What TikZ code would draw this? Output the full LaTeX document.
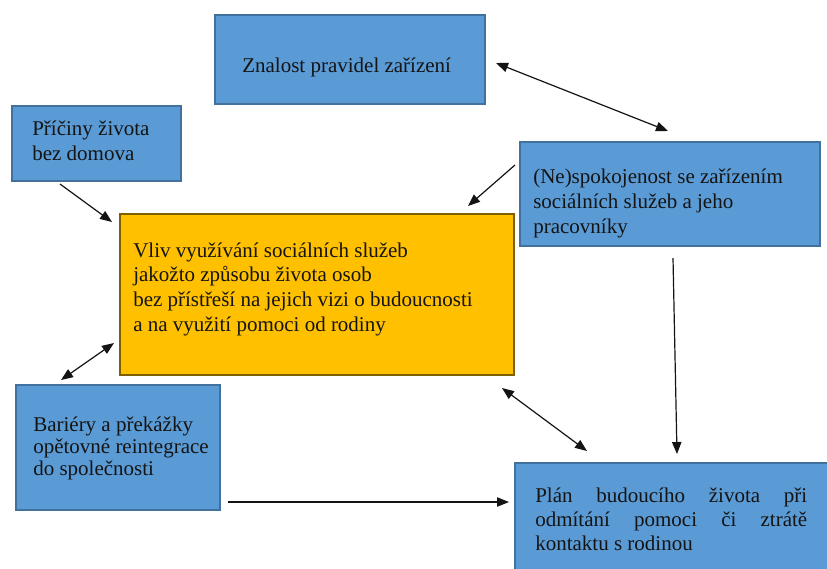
\documentclass[tikz,border=0pt]{standalone}
\usepackage{fontspec}
\setmainfont{Liberation Serif}
\usetikzlibrary{arrows.meta,fit}
\definecolor{boxblue}{HTML}{5B9BD5}
\definecolor{boxblueline}{HTML}{41719C}
\definecolor{boxyellow}{HTML}{FFC000}
\definecolor{boxyellowline}{HTML}{7F6000}
\definecolor{ink}{HTML}{141414}
\tikzset{
  bluebox/.style={draw=boxblueline, fill=boxblue, line width=0.8pt, inner sep=0pt},
  yellowbox/.style={draw=boxyellowline, fill=boxyellow, line width=0.8pt, inner sep=0pt},
  txt/.style={anchor=base west, inner sep=0pt, text=ink, font=\fontsize{15.75}{18.4}\selectfont, align=left},
  arr/.style={draw=ink, line width=0.9pt, -{Triangle[length=9pt,width=7pt]}},
  darr/.style={draw=ink, line width=0.9pt, {Triangle[length=9pt,width=7pt]}-{Triangle[length=9pt,width=7pt]}},
}
\begin{document}
\begin{tikzpicture}[x=0.75pt,y=-0.75pt]
\clip (0,0) rectangle (827,568);
\fill[white] (0,0) rectangle (827,568);
% boxes
\node[bluebox, fit={(215,15) (485,104)}] (zn) {};
\node[bluebox, fit={(12,106) (181,181)}] (pr) {};
\node[yellowbox, fit={(120,214) (514,375)}] (vl) {};
\node[bluebox, fit={(520,142) (820,246)}] (ne) {};
\node[bluebox, fit={(16,385) (220,510)}] (ba) {};
\node[bluebox, fit={(515,463) (840,590)}] (pl) {};
% texts (anchored at the baseline of their last line)
\node[txt] (znt) at (242,72) {Znalost pravidel zařízení};
\node[txt] (prt) at (32,160) {Příčiny života\\bez domova};
\node[txt] (vlt) at (133,331) {Vliv využívání sociálních služeb\\jakožto způsobu života osob\\bez přístřeší na jejich vizi o budoucnosti\\a na využití pomoci od rodiny};
\node[txt] (net) at (533,233) {(Ne)spokojenost se zařízením\\sociálních služeb a jeho\\pracovníky};
\node[txt, font=\fontsize{15.75}{16.5}\selectfont] (bat) at (33,475) {Bariéry a překážky\\opětovné reintegrace\\do společnosti};
\node[txt, text width=204pt, align=justify, font=\fontsize{15.75}{18}\selectfont] (plt) at (535,502) {Plán budoucího života při\linebreak odmítání pomoci či ztrátě\linebreak kontaktu s rodinou};
% arrow end points
\coordinate (znE) at (496,63);
\coordinate (neN) at (668,131);
\coordinate (neW) at (515,165);
\coordinate (vlNE) at (468,206);
\coordinate (prS) at (60,184);
\coordinate (vlNW) at (112,222);
\coordinate (vlW) at (114,343);
\coordinate (baN) at (61,380);
\coordinate (vlSE) at (502,388);
\coordinate (plNW) at (587,451);
\coordinate (neS) at (673,258);
\coordinate (plN) at (677,454);
\coordinate (baE) at (228,502);
\coordinate (plW) at (509,502);
% connectors
\draw[darr] (znE) -- (neN);
\draw[arr] (neW) -- (vlNE);
\draw[arr] (prS) -- (vlNW);
\draw[darr] (vlW) -- (baN);
\draw[darr] (vlSE) -- (plNW);
\draw[arr] (neS) -- (plN);
\draw[arr] (baE) -- (plW);
\end{tikzpicture}
\end{document}
